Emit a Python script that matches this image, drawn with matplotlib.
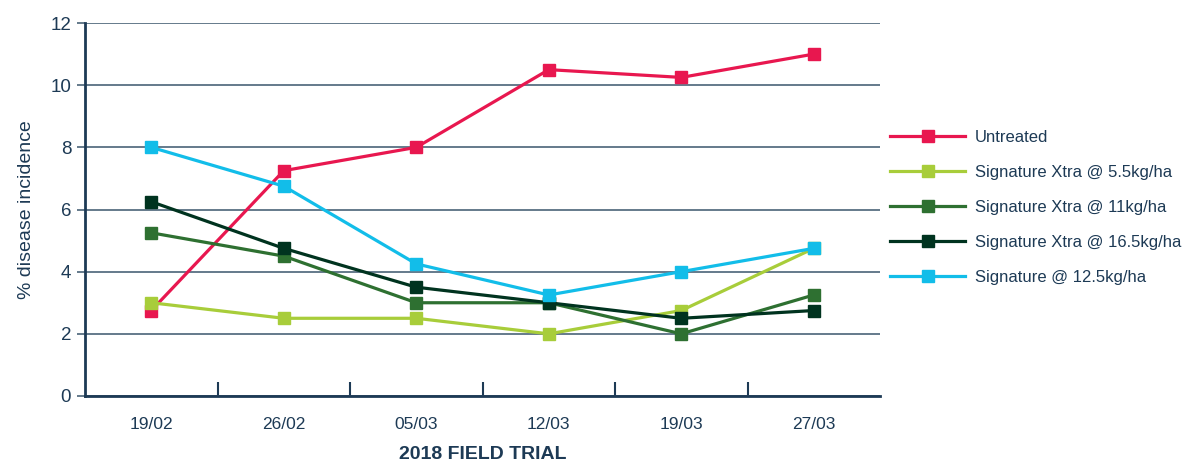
import matplotlib.pyplot as plt
import numpy as np

plt.rcParams['font.family'] = ['Liberation Sans', 'DejaVu Sans']

datas = ['19/02', '26/02', '05/03', '12/03', '19/03', '27/03']
untreated = [2.75, 7.25, 8, 10.5, 10.25, 11]
xtra_55 = [3, 2.5, 2.5, 2, 2.75, 4.75]
xtra_11 = [5.25, 4.5, 3, 3, 2, 3.25]
xtra_165 = [6.25, 4.75, 3.5, 3, 2.5, 2.75]
sig_125 = [8, 6.75, 4.25, 3.25, 4, 4.75]

series = [
    ('Untreated', untreated, '#e8174f'),
    ('Signature Xtra @ 5.5kg/ha', xtra_55, '#a8cd3a'),
    ('Signature Xtra @ 11kg/ha', xtra_11, '#2e7031'),
    ('Signature Xtra @ 16.5kg/ha', xtra_165, '#00331f'),
    ('Signature @ 12.5kg/ha', sig_125, '#12bde9'),
]

navy = '#1d3a55'
grid_cor = '#4a6478'

fig = plt.figure(figsize=(11.98, 4.65), dpi=100)
ax = fig.add_axes([0.071, 0.1484, 0.6636, 0.8021])

x = np.arange(len(datas))
for nome, vals, cor in series:
    ax.plot(x, vals, color=cor, linewidth=2.3, marker='s', markersize=8,
            label=nome, zorder=3)

ax.set_xlim(-0.5, len(datas) - 0.5)
ax.set_ylim(0, 12)
ax.set_yticks(range(0, 13, 2))
ax.set_xticks(x)
ax.set_xticklabels(datas)
ax.set_xticks(np.arange(0.5, len(datas) - 0.5, 1), minor=True)

ax.yaxis.grid(True, color=grid_cor, linewidth=1.2, zorder=0)
ax.spines['top'].set_visible(False)
ax.spines['right'].set_visible(False)
ax.spines['left'].set_color(navy)
ax.spines['bottom'].set_color(navy)
ax.spines['left'].set_linewidth(2)
ax.spines['bottom'].set_linewidth(2)

ax.tick_params(axis='y', length=6, width=1.2, color=grid_cor, labelsize=13.5,
               labelcolor=navy, pad=4)
ax.tick_params(axis='x', which='major', length=0, labelsize=12.5,
               labelcolor=navy, pad=15)
ax.tick_params(axis='x', which='minor', direction='in', length=10, width=1.5,
               color=navy)

ax.set_ylabel('% disease incidence', fontsize=14, color=navy, labelpad=11)
ax.set_xlabel('2018 FIELD TRIAL', fontsize=14, color=navy, fontweight='bold',
              labelpad=10)

leg = ax.legend(loc='upper left', bbox_to_anchor=(1.0126, 0.713), frameon=False,
                fontsize=12, handlelength=4.5, handletextpad=0.6,
                labelspacing=1.2, borderaxespad=0, borderpad=0)
for t in leg.get_texts():
    t.set_color(navy)

fig.savefig('out.png', dpi=100)
